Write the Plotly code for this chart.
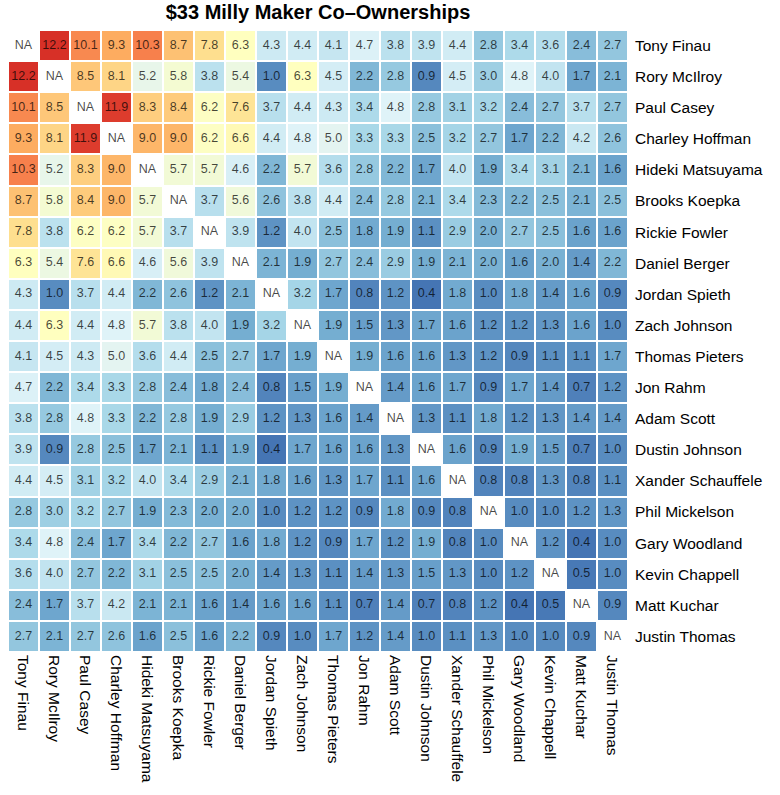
import plotly.graph_objects as go

PLAYERS = ['Tony Finau', 'Rory McIlroy', 'Paul Casey', 'Charley Hoffman',
           'Hideki Matsuyama', 'Brooks Koepka', 'Rickie Fowler', 'Daniel Berger',
           'Jordan Spieth', 'Zach Johnson', 'Thomas Pieters', 'Jon Rahm',
           'Adam Scott', 'Dustin Johnson', 'Xander Schauffele', 'Phil Mickelson',
           'Gary Woodland', 'Kevin Chappell', 'Matt Kuchar', 'Justin Thomas']

NA = None

# co-ownership % per pair, row order = PLAYERS
tony_finau        = [NA, 12.2, 10.1, 9.3, 10.3, 8.7, 7.8, 6.3, 4.3, 4.4, 4.1, 4.7, 3.8, 3.9, 4.4, 2.8, 3.4, 3.6, 2.4, 2.7]
rory_mcilroy      = [12.2, NA, 8.5, 8.1, 5.2, 5.8, 3.8, 5.4, 1.0, 6.3, 4.5, 2.2, 2.8, 0.9, 4.5, 3.0, 4.8, 4.0, 1.7, 2.1]
paul_casey        = [10.1, 8.5, NA, 11.9, 8.3, 8.4, 6.2, 7.6, 3.7, 4.4, 4.3, 3.4, 4.8, 2.8, 3.1, 3.2, 2.4, 2.7, 3.7, 2.7]
charley_hoffman   = [9.3, 8.1, 11.9, NA, 9.0, 9.0, 6.2, 6.6, 4.4, 4.8, 5.0, 3.3, 3.3, 2.5, 3.2, 2.7, 1.7, 2.2, 4.2, 2.6]
hideki_matsuyama  = [10.3, 5.2, 8.3, 9.0, NA, 5.7, 5.7, 4.6, 2.2, 5.7, 3.6, 2.8, 2.2, 1.7, 4.0, 1.9, 3.4, 3.1, 2.1, 1.6]
brooks_koepka     = [8.7, 5.8, 8.4, 9.0, 5.7, NA, 3.7, 5.6, 2.6, 3.8, 4.4, 2.4, 2.8, 2.1, 3.4, 2.3, 2.2, 2.5, 2.1, 2.5]
rickie_fowler     = [7.8, 3.8, 6.2, 6.2, 5.7, 3.7, NA, 3.9, 1.2, 4.0, 2.5, 1.8, 1.9, 1.1, 2.9, 2.0, 2.7, 2.5, 1.6, 1.6]
daniel_berger     = [6.3, 5.4, 7.6, 6.6, 4.6, 5.6, 3.9, NA, 2.1, 1.9, 2.7, 2.4, 2.9, 1.9, 2.1, 2.0, 1.6, 2.0, 1.4, 2.2]
jordan_spieth     = [4.3, 1.0, 3.7, 4.4, 2.2, 2.6, 1.2, 2.1, NA, 3.2, 1.7, 0.8, 1.2, 0.4, 1.8, 1.0, 1.8, 1.4, 1.6, 0.9]
zach_johnson      = [4.4, 6.3, 4.4, 4.8, 5.7, 3.8, 4.0, 1.9, 3.2, NA, 1.9, 1.5, 1.3, 1.7, 1.6, 1.2, 1.2, 1.3, 1.6, 1.0]
thomas_pieters    = [4.1, 4.5, 4.3, 5.0, 3.6, 4.4, 2.5, 2.7, 1.7, 1.9, NA, 1.9, 1.6, 1.6, 1.3, 1.2, 0.9, 1.1, 1.1, 1.7]
jon_rahm          = [4.7, 2.2, 3.4, 3.3, 2.8, 2.4, 1.8, 2.4, 0.8, 1.5, 1.9, NA, 1.4, 1.6, 1.7, 0.9, 1.7, 1.4, 0.7, 1.2]
adam_scott        = [3.8, 2.8, 4.8, 3.3, 2.2, 2.8, 1.9, 2.9, 1.2, 1.3, 1.6, 1.4, NA, 1.3, 1.1, 1.8, 1.2, 1.3, 1.4, 1.4]
dustin_johnson    = [3.9, 0.9, 2.8, 2.5, 1.7, 2.1, 1.1, 1.9, 0.4, 1.7, 1.6, 1.6, 1.3, NA, 1.6, 0.9, 1.9, 1.5, 0.7, 1.0]
xander_schauffele = [4.4, 4.5, 3.1, 3.2, 4.0, 3.4, 2.9, 2.1, 1.8, 1.6, 1.3, 1.7, 1.1, 1.6, NA, 0.8, 0.8, 1.3, 0.8, 1.1]
phil_mickelson    = [2.8, 3.0, 3.2, 2.7, 1.9, 2.3, 2.0, 2.0, 1.0, 1.2, 1.2, 0.9, 1.8, 0.9, 0.8, NA, 1.0, 1.0, 1.2, 1.3]
gary_woodland     = [3.4, 4.8, 2.4, 1.7, 3.4, 2.2, 2.7, 1.6, 1.8, 1.2, 0.9, 1.7, 1.2, 1.9, 0.8, 1.0, NA, 1.2, 0.4, 1.0]
kevin_chappell    = [3.6, 4.0, 2.7, 2.2, 3.1, 2.5, 2.5, 2.0, 1.4, 1.3, 1.1, 1.4, 1.3, 1.5, 1.3, 1.0, 1.2, NA, 0.5, 1.0]
matt_kuchar       = [2.4, 1.7, 3.7, 4.2, 2.1, 2.1, 1.6, 1.4, 1.6, 1.6, 1.1, 0.7, 1.4, 0.7, 0.8, 1.2, 0.4, 0.5, NA, 0.9]
justin_thomas     = [2.7, 2.1, 2.7, 2.6, 1.6, 2.5, 1.6, 2.2, 0.9, 1.0, 1.7, 1.2, 1.4, 1.0, 1.1, 1.3, 1.0, 1.0, 0.9, NA]

Z = [tony_finau, rory_mcilroy, paul_casey, charley_hoffman, hideki_matsuyama,
     brooks_koepka, rickie_fowler, daniel_berger, jordan_spieth, zach_johnson,
     thomas_pieters, jon_rahm, adam_scott, dustin_johnson, xander_schauffele,
     phil_mickelson, gary_woodland, kevin_chappell, matt_kuchar, justin_thomas]

# RdYlBu (9 class), reversed: blue = low, red = high
RDYLBU_R = ['#4575b4', '#74add1', '#abd9e9', '#e0f3f8', '#ffffbf',
            '#fee090', '#fdae61', '#f46d43', '#d73027']


def main():
    vals = [v for row in Z for v in row if v is not None]
    scale = [[i / (len(RDYLBU_R) - 1), c] for i, c in enumerate(RDYLBU_R)]
    n = len(PLAYERS)

    # cell labels as a text-only scatter on the same category axes
    tx, ty, tt = [], [], []
    for r, row in enumerate(Z):
        for c, v in enumerate(row):
            tx.append(PLAYERS[c])
            ty.append(PLAYERS[r])
            tt.append('NA' if v is None else f'{v:.1f}')

    fig = go.Figure()
    fig.add_trace(go.Heatmap(z=Z, x=PLAYERS, y=PLAYERS,
                             colorscale=scale,
                             zmin=min(vals), zmax=max(vals),
                             xgap=2, ygap=2,
                             showscale=False,
                             hoverongaps=False))
    fig.add_trace(go.Scatter(x=tx, y=ty, text=tt, mode='text',
                             textposition='middle center',
                             textfont=dict(size=12.5, color='rgba(0,0,0,0.72)'),
                             hoverinfo='skip', showlegend=False))
    fig.update_layout(
        width=780, height=795,
        font=dict(family='Liberation Sans, Arial, sans-serif', size=15.5, color='black'),
        title=dict(text='<b>$33 Milly Maker Co–Ownerships</b>',
                   font=dict(size=20, color='black'),
                   x=0.5, xref='paper', xanchor='center',
                   y=0.985, yref='container', yanchor='middle'),
        margin=dict(l=8, r=152, t=30, b=143),
        plot_bgcolor='white',
        paper_bgcolor='white',
        showlegend=False,
        xaxis=dict(side='bottom', tickangle=90, showgrid=False, zeroline=False,
                   ticks='', ticklabelstandoff=2, automargin=False,
                   range=[-0.5, n - 0.5]),
        yaxis=dict(side='right', showgrid=False,
                   zeroline=False, ticks='', ticklabelstandoff=6,
                   automargin=False, range=[n - 0.5, -0.5]),
    )
    fig.write_html('out.html', config=dict(displayModeBar=False),
                   post_script="document.body.style.margin='0px';")


if __name__ == '__main__':
    main()
